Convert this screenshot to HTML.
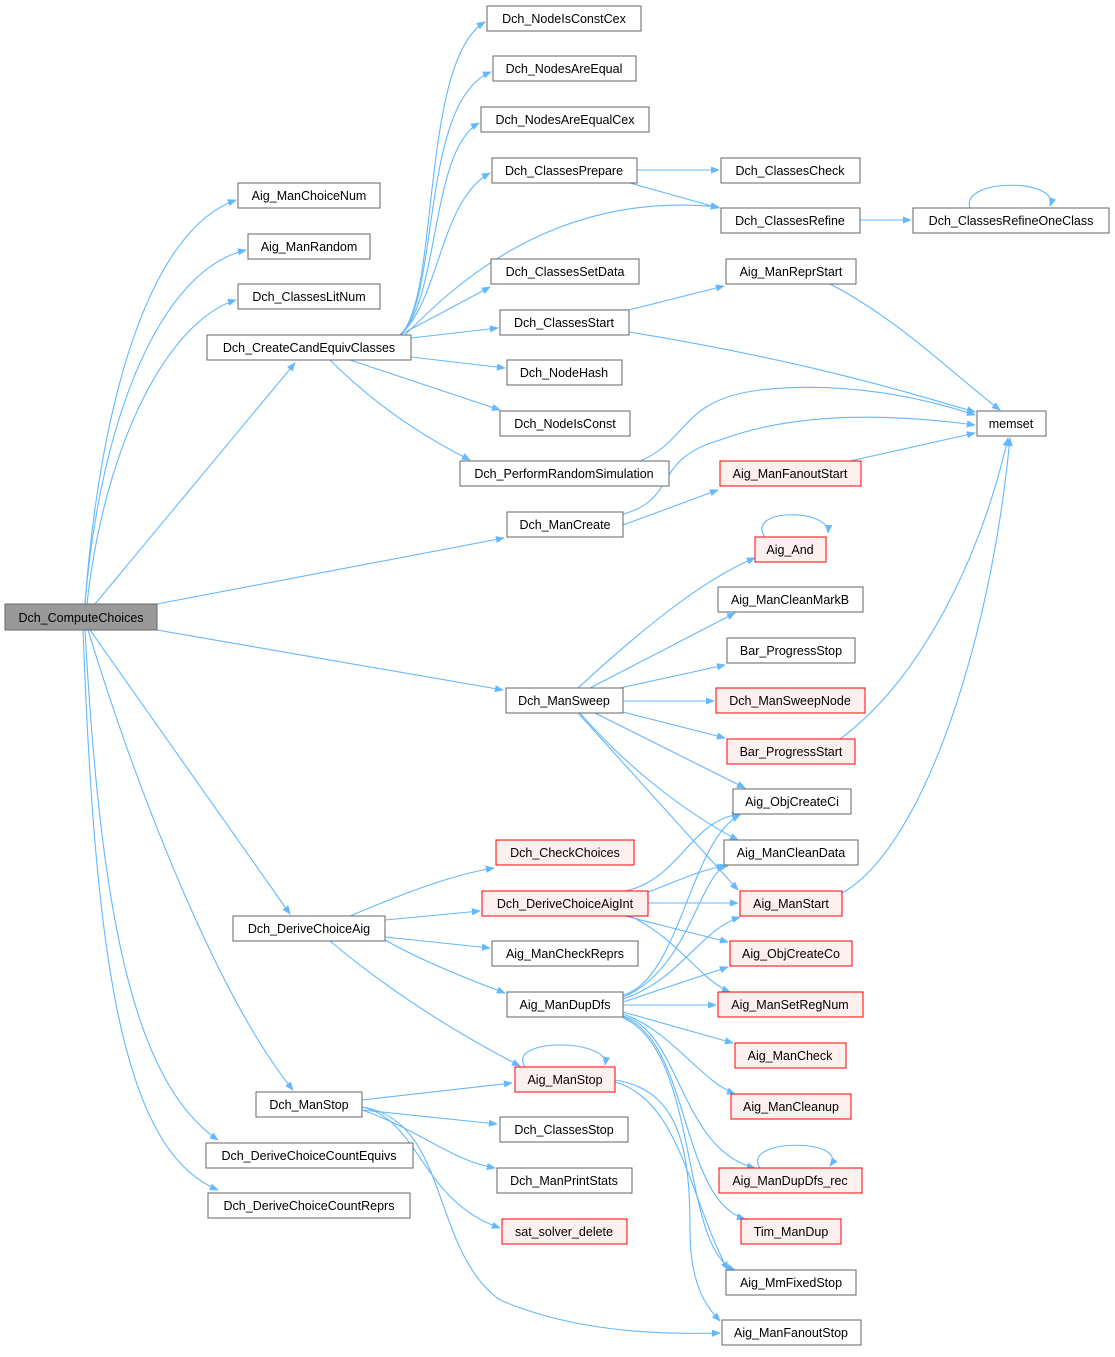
<!DOCTYPE html>
<html><head><meta charset="utf-8"><style>
html,body{margin:0;padding:0;background:#fff}
svg text{font-family:"Liberation Sans",Arial,sans-serif;font-size:12.5px;fill:#000}
</style></head><body>
<svg width="1115" height="1352" viewBox="0 0 1115 1352" xmlns="http://www.w3.org/2000/svg">
<defs><marker id="a" viewBox="0 0 10 10" refX="9" refY="5" markerWidth="9" markerHeight="9" orient="auto" markerUnits="userSpaceOnUse"><path d="M0,1 L10,5 L0,9 z" fill="#63b8ff"/></marker></defs>
<g fill="none" stroke="#63b8ff" stroke-width="1.1" marker-end="url(#a)">
<path d="M85,604 C100,400 150,230 236,200"/>
<path d="M85,604 C100,420 160,270 246,250"/>
<path d="M87,604 C105,440 170,320 236,300"/>
<path d="M95,604 L295,363"/>
<path d="M157,604 L504,538"/>
<path d="M157,630 L503,690"/>
<path d="M90,630 L290,914"/>
<path d="M88,630 C140,800 220,1000 293,1090"/>
<path d="M85,630 C100,900 130,1080 218,1140"/>
<path d="M83,630 C95,950 120,1150 218,1190"/>
<path d="M400,335 C440,300 420,60 485,22"/>
<path d="M400,335 C440,300 420,100 491,72"/>
<path d="M400,335 C440,300 430,150 479,123"/>
<path d="M400,335 C440,300 440,200 490,173"/>
<path d="M405,335 C450,290 550,190 719,207"/>
<path d="M400,335 L490,287"/>
<path d="M411,338 L498,328"/>
<path d="M411,357 L505,368"/>
<path d="M350,360 L500,410"/>
<path d="M330,360 C380,410 430,440 470,460"/>
<path d="M637,170 L719,170"/>
<path d="M630,183 L719,208"/>
<path d="M860,220 L911,220"/>
<path d="M970,208 C960,178 1060,178 1050,206"/>
<path d="M629,310 L724,286"/>
<path d="M629,332 C800,360 900,390 975,412"/>
<path d="M830,284 C900,320 960,380 1000,410"/>
<path d="M640,461 C690,440 680,400 760,390 C850,380 930,400 975,415"/>
<path d="M623,525 L718,490"/>
<path d="M620,515 C680,500 650,460 720,440 C800,410 900,415 975,425"/>
<path d="M850,461 L975,433"/>
<path d="M578,688 C630,640 700,580 755,558"/>
<path d="M590,688 L735,613"/>
<path d="M620,688 L725,665"/>
<path d="M623,701 L714,701"/>
<path d="M623,712 L725,738"/>
<path d="M595,713 L745,788"/>
<path d="M580,713 C620,760 680,810 738,840"/>
<path d="M578,713 L738,890"/>
<path d="M765,537 C745,508 830,508 828,533"/>
<path d="M840,739 C920,680 980,560 1008,438"/>
<path d="M842,893 C920,850 990,650 1010,438"/>
<path d="M350,916 C400,895 450,875 494,868"/>
<path d="M385,920 L480,911"/>
<path d="M385,937 L490,948"/>
<path d="M385,940 C420,960 470,980 505,993"/>
<path d="M330,941 C400,1000 470,1040 520,1066"/>
<path d="M625,891 C680,880 690,820 740,814"/>
<path d="M648,892 C680,880 700,870 725,866"/>
<path d="M648,903 L738,903"/>
<path d="M625,916 L728,942"/>
<path d="M630,916 C680,940 700,980 730,992"/>
<path d="M623,995 C680,980 690,840 740,815"/>
<path d="M623,997 C690,970 700,870 728,866"/>
<path d="M623,999 C680,980 700,930 740,917"/>
<path d="M623,1002 L728,967"/>
<path d="M623,1005 L716,1005"/>
<path d="M623,1012 L733,1043"/>
<path d="M623,1014 C670,1030 700,1080 735,1094"/>
<path d="M623,1016 C680,1030 680,1150 755,1168"/>
<path d="M623,1017 C690,1040 680,1200 745,1219"/>
<path d="M623,1018 C700,1050 680,1250 735,1270"/>
<path d="M760,1168 C740,1138 850,1138 830,1166"/>
<path d="M525,1067 C505,1038 610,1038 605,1065"/>
<path d="M615,1080 C680,1090 690,1150 690,1230 C690,1290 710,1310 720,1321"/>
<path d="M615,1082 C680,1100 690,1200 728,1270"/>
<path d="M362,1100 L512,1083"/>
<path d="M362,1110 L497,1124"/>
<path d="M362,1110 C420,1130 450,1160 495,1168"/>
<path d="M362,1107 C420,1120 420,1200 500,1228"/>
<path d="M362,1107 C450,1120 430,1250 500,1300 C570,1330 650,1335 720,1333"/>
</g>
<g stroke-width="1">
<rect x="5" y="604" width="152" height="26" fill="#999" stroke="#666"/>
<g fill="#fff" stroke="#666">
<rect x="238" y="183" width="142" height="25"/><rect x="248" y="234" width="122" height="25"/>
<rect x="238" y="284" width="142" height="25"/><rect x="207" y="335" width="204" height="25"/>
<rect x="233" y="916" width="152" height="25"/><rect x="256" y="1092" width="106" height="25"/>
<rect x="206" y="1143" width="207" height="25"/><rect x="208" y="1193" width="202" height="25"/>
<rect x="487" y="6" width="154" height="25"/><rect x="493" y="56" width="143" height="25"/>
<rect x="481" y="107" width="168" height="25"/><rect x="492" y="158" width="145" height="25"/>
<rect x="491" y="259" width="148" height="25"/><rect x="500" y="310" width="129" height="25"/>
<rect x="507" y="360" width="115" height="25"/><rect x="500" y="411" width="130" height="25"/>
<rect x="460" y="461" width="209" height="25"/><rect x="507" y="512" width="116" height="25"/>
<rect x="506" y="688" width="117" height="25"/><rect x="492" y="941" width="146" height="25"/>
<rect x="507" y="992" width="116" height="25"/><rect x="500" y="1117" width="128" height="25"/>
<rect x="497" y="1168" width="135" height="25"/>
<rect x="721" y="158" width="139" height="25"/><rect x="721" y="208" width="139" height="25"/>
<rect x="726" y="259" width="130" height="25"/><rect x="718" y="587" width="145" height="25"/>
<rect x="727" y="638" width="128" height="25"/><rect x="733" y="789" width="118" height="25"/>
<rect x="724" y="840" width="134" height="25"/><rect x="726" y="1270" width="130" height="25"/>
<rect x="722" y="1320" width="139" height="25"/>
<rect x="913" y="208" width="196" height="25"/><rect x="977" y="411" width="69" height="25"/>
</g>
<g fill="#fff0f0" stroke="#f00">
<rect x="496" y="840" width="138" height="25"/><rect x="482" y="891" width="166" height="25"/>
<rect x="515" y="1067" width="100" height="25"/><rect x="502" y="1219" width="125" height="25"/>
<rect x="720" y="461" width="141" height="25"/><rect x="755" y="537" width="71" height="25"/>
<rect x="716" y="688" width="149" height="25"/><rect x="727" y="739" width="128" height="25"/>
<rect x="740" y="891" width="102" height="25"/><rect x="730" y="941" width="122" height="25"/>
<rect x="718" y="992" width="145" height="25"/><rect x="735" y="1043" width="111" height="25"/>
<rect x="731" y="1094" width="120" height="25"/><rect x="719" y="1168" width="143" height="25"/>
<rect x="741" y="1219" width="100" height="25"/>
</g>
</g>
<g text-anchor="middle">
<text x="81" y="622">Dch_ComputeChoices</text>
<text x="309" y="200">Aig_ManChoiceNum</text><text x="309" y="251">Aig_ManRandom</text>
<text x="309" y="301">Dch_ClassesLitNum</text><text x="309" y="352">Dch_CreateCandEquivClasses</text>
<text x="309" y="933">Dch_DeriveChoiceAig</text><text x="309" y="1109">Dch_ManStop</text>
<text x="309" y="1160">Dch_DeriveChoiceCountEquivs</text><text x="309" y="1210">Dch_DeriveChoiceCountReprs</text>
<text x="564" y="23">Dch_NodeIsConstCex</text><text x="564" y="73">Dch_NodesAreEqual</text>
<text x="565" y="124">Dch_NodesAreEqualCex</text><text x="564" y="175">Dch_ClassesPrepare</text>
<text x="565" y="276">Dch_ClassesSetData</text><text x="564" y="327">Dch_ClassesStart</text>
<text x="564" y="377">Dch_NodeHash</text><text x="565" y="428">Dch_NodeIsConst</text>
<text x="564" y="478">Dch_PerformRandomSimulation</text><text x="565" y="529">Dch_ManCreate</text>
<text x="564" y="705">Dch_ManSweep</text><text x="565" y="857">Dch_CheckChoices</text>
<text x="565" y="908">Dch_DeriveChoiceAigInt</text><text x="565" y="958">Aig_ManCheckReprs</text>
<text x="565" y="1009">Aig_ManDupDfs</text><text x="565" y="1084">Aig_ManStop</text>
<text x="564" y="1134">Dch_ClassesStop</text><text x="564" y="1185">Dch_ManPrintStats</text>
<text x="564" y="1236">sat_solver_delete</text>
<text x="790" y="175">Dch_ClassesCheck</text><text x="790" y="225">Dch_ClassesRefine</text>
<text x="791" y="276">Aig_ManReprStart</text><text x="790" y="478">Aig_ManFanoutStart</text>
<text x="790" y="554">Aig_And</text><text x="790" y="604">Aig_ManCleanMarkB</text>
<text x="791" y="655">Bar_ProgressStop</text><text x="790" y="705">Dch_ManSweepNode</text>
<text x="791" y="756">Bar_ProgressStart</text><text x="792" y="806">Aig_ObjCreateCi</text>
<text x="791" y="857">Aig_ManCleanData</text><text x="791" y="908">Aig_ManStart</text>
<text x="791" y="958">Aig_ObjCreateCo</text><text x="790" y="1009">Aig_ManSetRegNum</text>
<text x="790" y="1060">Aig_ManCheck</text><text x="791" y="1111">Aig_ManCleanup</text>
<text x="790" y="1185">Aig_ManDupDfs_rec</text><text x="791" y="1236">Tim_ManDup</text>
<text x="791" y="1287">Aig_MmFixedStop</text><text x="791" y="1337">Aig_ManFanoutStop</text>
<text x="1011" y="225">Dch_ClassesRefineOneClass</text><text x="1011" y="428">memset</text>
</g>
</svg>
</body></html>
